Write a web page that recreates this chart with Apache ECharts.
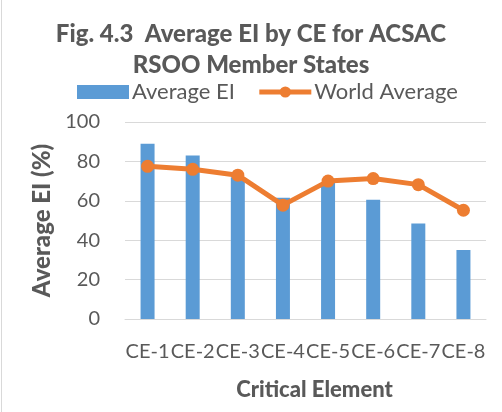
<!DOCTYPE html>
<html><head><meta charset="utf-8">
<script src="https://cdn.jsdelivr.net/npm/echarts@6/dist/echarts.min.js"></script>
<style>html,body{margin:0;padding:0;background:#fff}#c{width:502px;height:412px}</style>
</head><body><div id="c"></div>
<script>
const categories = ['CE-1','CE-2','CE-3','CE-4','CE-5','CE-6','CE-7','CE-8'];
const averageEI = [89, 83, 72, 61.5, 69.5, 60.5, 48.5, 35];
const worldAverage = [77.5, 76, 73, 57.8, 70, 71.3, 68.2, 55.2];
const yTicks = [0, 20, 40, 60, 80, 100];
const FONT = 'Lato, "Liberation Sans", sans-serif';
const GRAY = '#595959';
const chart = echarts.init(document.getElementById('c'));
chart.setOption({
  animation: false,
  title: {
    text: 'Fig. 4.3  Average EI by CE for ACSAC\nRSOO Member States',
    left: 'center', top: 14,
    textStyle: { fontFamily: FONT, fontWeight: 900, fontSize: 24, color: GRAY, lineHeight: 31 }
  },
  legend: {
    top: 76, left: 72,
    itemGap: 22, itemWidth: 52, itemHeight: 14,
    textStyle: { fontFamily: FONT, fontSize: 22, color: GRAY, padding: [0,0,0,-2] },
    data: [{ name: 'Average EI', icon: 'rect' },
           { name: 'World Average', lineStyle: { width: 5, color: '#ED7D31' } }]
  },
  graphic: [{ type: 'line', shape: { x1: 1.5, y1: 0, x2: 1.5, y2: 412 }, style: { stroke: '#d9d9d9', lineWidth: 1 } }],
  grid: { left: 125, right: 16, top: 122, bottom: 93 },
  xAxis: {
    type: 'category', data: categories,
    name: 'Critical Element', nameLocation: 'middle', nameGap: 60,
    nameTextStyle: { fontFamily: FONT, fontWeight: 900, fontSize: 22, color: GRAY, padding: [0,0,0,18] },
    axisLine: { lineStyle: { color: '#d9d9d9', width: 1 } },
    axisTick: { show: false },
    axisLabel: { fontFamily: FONT, fontSize: 20, color: GRAY, margin: 23, interval: 0 }
  },
  yAxis: {
    type: 'value', min: yTicks[0], max: yTicks[yTicks.length-1], interval: 20,
    name: 'Average EI (%)', nameLocation: 'middle', nameGap: 70, nameRotate: 90,
    nameTextStyle: { fontFamily: FONT, fontWeight: 900, fontSize: 24, color: GRAY },
    axisLine: { show: false }, axisTick: { show: false },
    axisLabel: { fontFamily: FONT, fontSize: 20, color: GRAY, margin: 25 },
    splitLine: { lineStyle: { color: '#d9d9d9', width: 1 } }
  },
  series: [
    { name: 'Average EI', type: 'bar', data: averageEI, barWidth: 14, itemStyle: { color: '#5B9BD5' } },
    { name: 'World Average', type: 'line', data: worldAverage, symbol: 'circle', symbolSize: 13,
      lineStyle: { color: '#ED7D31', width: 5 }, itemStyle: { color: '#ED7D31' } }
  ]
});
</script></body></html>
